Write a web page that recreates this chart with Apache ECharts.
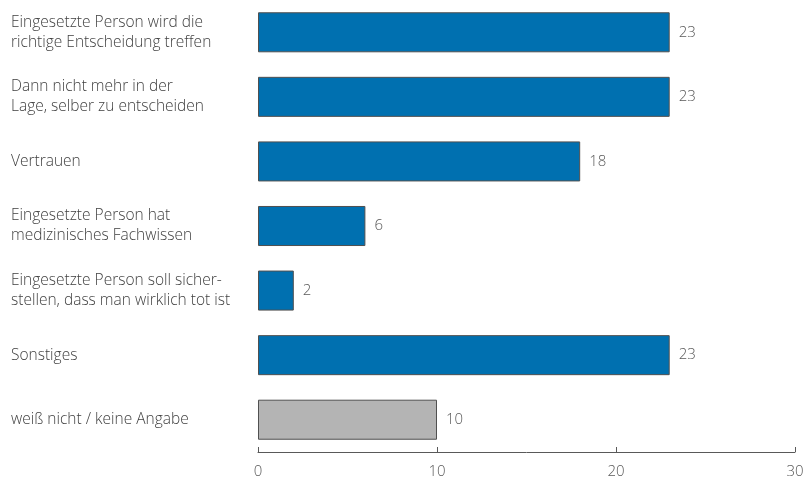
<!DOCTYPE html>
<html>
<head>
<meta charset="utf-8">
<script src="https://cdn.jsdelivr.net/npm/echarts@6/dist/echarts.min.js"></script>
<style>
  html, body { margin: 0; padding: 0; background: #fff; }
  #chart { width: 803px; height: 479px; }
</style>
</head>
<body>
<div id="chart"></div>
<script>
var categories = [
    'Eingesetzte Person wird die\nrichtige Entscheidung treffen',
    'Dann nicht mehr in der\nLage, selber zu entscheiden',
    'Vertrauen',
    'Eingesetzte Person hat\nmedizinisches Fachwissen',
    'Eingesetzte Person soll sicher-\nstellen, dass man wirklich tot ist',
    'Sonstiges',
    'weiß nicht / keine Angabe'
];
var values = [23, 23, 18, 6, 2, 23, 10];
var xTicks = [0, 10, 20, 30];

var blue = '#0070b0';
var grey = '#b4b4b4';

var barData = values.map(function (v, i) {
    return {
        value: v,
        itemStyle: { color: i === values.length - 1 ? grey : blue }
    };
});

var chart = echarts.init(document.getElementById('chart'));
chart.setOption({
    animation: false,
    textStyle: { fontFamily: 'Open Sans' },
    grid: { left: 258, right: 8, top: 0, bottom: 27, outerBoundsMode: 'none', containLabel: false },
    xAxis: {
        type: 'value',
        min: xTicks[0],
        max: xTicks[xTicks.length - 1],
        interval: 10,
        splitLine: { show: false },
        axisLine: { show: true, lineStyle: { color: '#595959', width: 1 } },
        axisTick: { show: true, inside: true, length: 5, lineStyle: { color: '#595959' } },
        axisLabel: { color: '#595959', fontSize: 15, margin: 12, fontWeight: 300 }
    },
    yAxis: {
        type: 'category',
        inverse: true,
        data: categories,
        axisLine: { show: false },
        axisTick: { show: false },
        axisLabel: {
            align: 'left',
            margin: 247,
            color: '#404040',
            fontSize: 15.5,
            lineHeight: 20,
            fontWeight: 300
        }
    },
    series: [{
        type: 'bar',
        data: barData,
        barCategoryGap: '38%',
        itemStyle: { borderColor: '#505050', borderWidth: 1 },
        label: {
            show: true,
            position: 'right',
            distance: 9,
            color: '#595959',
            fontSize: 15,
            fontWeight: 300
        }
    }]
});
</script>
</body>
</html>
